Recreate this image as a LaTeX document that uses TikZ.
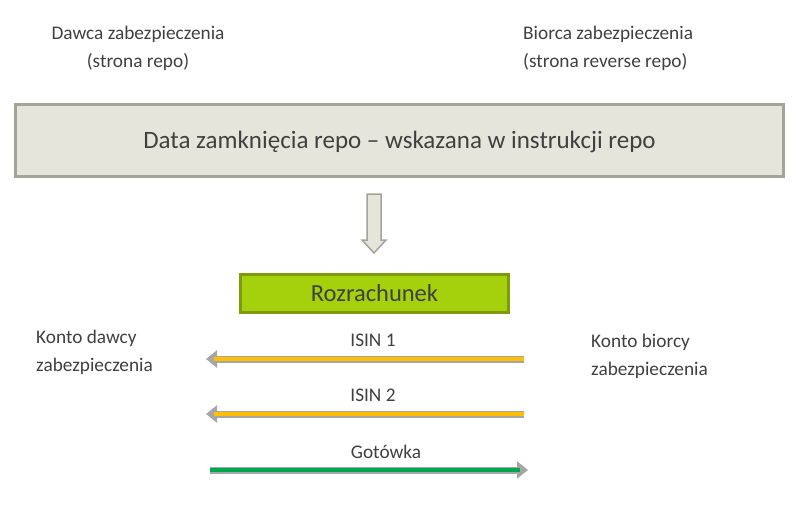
\documentclass[tikz,border=0pt]{standalone}
\usepackage{fontspec}
\setmainfont{Carlito}
\usetikzlibrary{arrows.meta}

\definecolor{boxfill}{HTML}{E6E5DC}
\definecolor{boxline}{HTML}{A3A396}
\definecolor{setlfill}{HTML}{A5D10C}
\definecolor{setlline}{HTML}{7E9C0A}
\definecolor{txtgray}{HTML}{404040}
\definecolor{linegray}{HTML}{A6A6A6}
\definecolor{isinyellow}{HTML}{FFBE00}
\definecolor{cashgreen}{HTML}{00A650}

\begin{document}
\begin{tikzpicture}[
    x=1pt, y=-1pt,
    lbl/.style={font=\fontsize{19.3}{28}\selectfont, text=txtgray, inner sep=0pt},
    datebox/.style={rectangle, draw=boxline, fill=boxfill, line width=3pt, minimum width=768pt, minimum height=72pt, text depth=2pt, font=\fontsize{25}{30}\selectfont, text=txtgray},
    setlbox/.style={rectangle, draw=setlline, fill=setlfill, line width=3pt, minimum width=268pt, minimum height=38pt, font=\fontsize{24.5}{28}\selectfont, text=txtgray},
    hollow/.style={draw=boxline, fill=boxfill, line width=1.5pt, line join=miter},
    outline/.style={line width=7pt, draw=linegray, -{Triangle[length=11pt,width=17pt]}},
    isinfill/.style={line width=3.5pt, draw=isinyellow},
    cashfill/.style={line width=3.5pt, draw=cashgreen}
  ]
    \useasboundingbox (0,0) rectangle (804,506);

    % Parties
    \node[lbl, align=center] (giver) at (138,48.5) {Dawca zabezpieczenia\\(strona repo)};
    \node[lbl, align=left, anchor=west] (taker) at (523,48.5) {Biorca zabezpieczenia\\(strona reverse repo)};

    % Closing date
    \node[datebox] (closing) at (399.5,140.5) {Data zamknięcia repo -- wskazana w instrukcji repo};
    \coordinate (downtop) at (374,194);
    \draw[hollow] (downtop) ++(-7,0) -- ++(14,0) -- ++(0,46) -- ++(5,0)
      -- ++(-12,13) -- ++(-12,-13) -- ++(5,0) -- cycle;

    % Settlement
    \node[setlbox] (settle) at (374.5,293.5) {Rozrachunek};

    % Accounts
    \node[lbl, align=left, anchor=west] (giveracc) at (36,352.5) {Konto dawcy\\zabezpieczenia};
    \node[lbl, align=left, anchor=west] (takeracc) at (591,356) {Konto biorcy\\zabezpieczenia};

    % Flow ends
    \coordinate (isinAr) at (524,359);
    \coordinate (isinAl) at (206,359);
    \coordinate (isinBr) at (524,414);
    \coordinate (isinBl) at (206,414);
    \coordinate (cashl) at (210,470);
    \coordinate (cashr) at (528,470);

    % Flows
    \draw[outline] (isinAr) -- node[lbl, above=9pt, xshift=8pt] (isinA) {ISIN 1} (isinAl);
    \draw[isinfill] (isinAr) -- ([xshift=8pt]isinAl);
    \draw[outline] (isinBr) -- node[lbl, above=9pt, xshift=8pt] (isinB) {ISIN 2} (isinBl);
    \draw[isinfill] (isinBr) -- ([xshift=8pt]isinBl);
    \draw[outline] (cashl) -- node[lbl, above=8pt, xshift=17pt] (cash) {Gotówka} (cashr);
    \draw[cashfill] (cashl) -- ([xshift=-8pt]cashr);

\end{tikzpicture}
\end{document}
